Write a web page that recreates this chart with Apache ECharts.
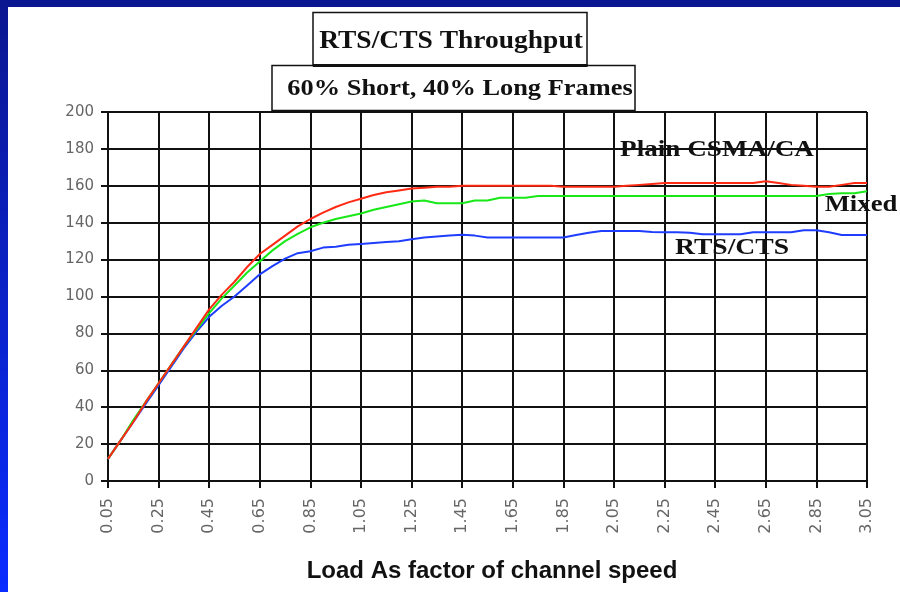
<!DOCTYPE html>
<html>
<head>
<meta charset="utf-8">
<script src="https://cdn.jsdelivr.net/npm/echarts@6/dist/echarts.min.js"></script>
<style>
  html, body { margin: 0; padding: 0; background: #ffffff; }
  #chart { width: 900px; height: 592px; }
</style>
</head>
<body>
<div id="chart"></div>
<script>
// ---- data ----
const loads = ['0.05','0.10','0.15','0.20','0.25','0.30','0.35','0.40','0.45','0.50',
  '0.55','0.60','0.65','0.70','0.75','0.80','0.85','0.90','0.95','1.00',
  '1.05','1.10','1.15','1.20','1.25','1.30','1.35','1.40','1.45','1.50',
  '1.55','1.60','1.65','1.70','1.75','1.80','1.85','1.90','1.95','2.00',
  '2.05','2.10','2.15','2.20','2.25','2.30','2.35','2.40','2.45','2.50',
  '2.55','2.60','2.65','2.70','2.75','2.80','2.85','2.90','2.95','3.00','3.05'];

const plainCsma = [12,22,32,43,53,63,73,83,93,101,
  108,116,123,128,133,138,142,145.5,148.5,151,
  153,155,156.5,157.5,158.5,159,159.5,159.5,160,160,
  160,160,160,160,160,160,159.5,159.5,159.5,159.5,
  159.5,160,160.5,161,161.5,161.5,161.5,161.5,161.5,161.5,
  161.5,161.5,162.5,161.5,160.5,160,159.5,159.5,160.5,161.5,161.5];

const mixed = [12,22,33,43,53,63,73,82,91,99,
  106,113,119,125,130,134,137.5,140,142,143.5,
  145,147,148.5,150,151.5,152,150.5,150.5,150.5,152,
  152,153.5,153.5,153.5,154.5,154.5,154.5,154.5,154.5,154.5,
  154.5,154.5,154.5,154.5,154.5,154.5,154.5,154.5,154.5,154.5,
  154.5,154.5,154.5,154.5,154.5,154.5,154.5,155.5,156,156,157];

const rtsCts = [12,22,32,42,52,62,72,81,89,95,
  100,106,112,116.5,120.5,123.5,124.5,126.5,127,128,
  128.5,129,129.5,130,131,132,132.5,133,133.5,133,
  132,132,132,132,132,132,132,133.3,134.5,135.5,
  135.5,135.5,135.5,135,134.8,134.8,134.5,133.7,133.7,133.7,
  133.7,134.8,134.8,134.8,134.8,135.9,135.9,134.8,133.3,133.3,133.3];

const seriesNames = ['RTS/CTS', 'Mixed', 'Plain CSMA/CA'];
const titleText = 'RTS/CTS Throughput';
const subtitleText = '60% Short, 40% Long Frames';
const xAxisTitle = 'Load As factor of channel speed';

const chart = echarts.init(document.getElementById('chart'), null, { renderer: 'canvas' });

const serifBold = '"Liberation Serif", "DejaVu Serif", serif';

function label(text, x, y, size, sx) {
  return {
    type: 'text', x: x, y: y, z: 100, scaleX: sx,
    style: {
      text: text, fontFamily: serifBold, fontWeight: 'bold', fontSize: size,
      fill: '#111', align: 'center', verticalAlign: 'middle',
      textAlign: 'center', textVerticalAlign: 'middle'
    }
  };
}

const option = {
  backgroundColor: '#ffffff',
  animation: false,
  grid: { left: 108, right: 33, top: 112, bottom: 111, containLabel: false },
  xAxis: {
    type: 'category',
    data: loads,
    boundaryGap: false,
    axisLine: { show: true, lineStyle: { color: '#111', width: 2 } },
    axisTick: { show: true, interval: 3, length: 7, lineStyle: { color: '#111', width: 2 } },
    axisLabel: {
      interval: 3, rotate: 90, margin: 17,
      color: '#666', fontFamily: '"DejaVu Sans", sans-serif', fontSize: 16
    },
    splitLine: { show: true, interval: 3, lineStyle: { color: '#111', width: 2 } }
  },
  yAxis: {
    type: 'value', min: 0, max: 200, interval: 20,
    axisLine: { show: true, lineStyle: { color: '#111', width: 2 } },
    axisTick: { show: true, length: 7, lineStyle: { color: '#111', width: 2 } },
    axisLabel: { margin: 14, color: '#666', fontFamily: '"DejaVu Sans", sans-serif', fontSize: 15 },
    splitLine: { show: true, lineStyle: { color: '#111', width: 2 } }
  },
  series: [
    { name: seriesNames[0], type: 'line', data: rtsCts, showSymbol: false, symbol: 'none',
      lineStyle: { color: '#1f3dff', width: 2 }, z: 3 },
    { name: seriesNames[1], type: 'line', data: mixed, showSymbol: false, symbol: 'none',
      lineStyle: { color: '#18e818', width: 2 }, z: 4 },
    { name: seriesNames[2], type: 'line', data: plainCsma, showSymbol: false, symbol: 'none',
      lineStyle: { color: '#ff2a14', width: 2 }, z: 5 }
  ],
  graphic: [
    { type: 'rect', z: 50, shape: { x: 0, y: 0, width: 8, height: 592 },
      style: { fill: new echarts.graphic.LinearGradient(0, 0, 0, 1, [
        { offset: 0, color: '#0b1790' }, { offset: 1, color: '#0a2cff' }]) } },
    { type: 'rect', z: 50, shape: { x: 0, y: 0, width: 900, height: 7 },
      style: { fill: '#0b1790' } },
    { type: 'rect', z: 60, shape: { x: 272, y: 65.5, width: 363, height: 45 },
      style: { fill: '#ffffff', stroke: '#111', lineWidth: 1.5 } },
    { type: 'rect', z: 61, shape: { x: 313, y: 12.5, width: 274, height: 53 },
      style: { fill: '#ffffff', stroke: '#111', lineWidth: 1.5 } },
    { type: 'rect', z: 62, shape: { x: 313, y: 64, width: 274.5, height: 3 },
      style: { fill: '#111' } },
    label(titleText, 451, 42, 25, 1.1),
    label(subtitleText, 460, 89, 24, 1.1),
    label(seriesNames[2], 717, 150, 23, 1.18),
    label(seriesNames[1], 861, 205, 23, 1.16),
    label(seriesNames[0], 732, 248, 23, 1.2),
    { type: 'text', x: 492, y: 571, z: 100,
      style: { text: xAxisTitle, fontFamily: '"Liberation Sans", Arial, sans-serif',
        fontWeight: 'bold', fontSize: 24, fill: '#111',
        align: 'center', verticalAlign: 'middle', textAlign: 'center', textVerticalAlign: 'middle' } }
  ]
};

chart.setOption(option);
</script>
</body>
</html>
